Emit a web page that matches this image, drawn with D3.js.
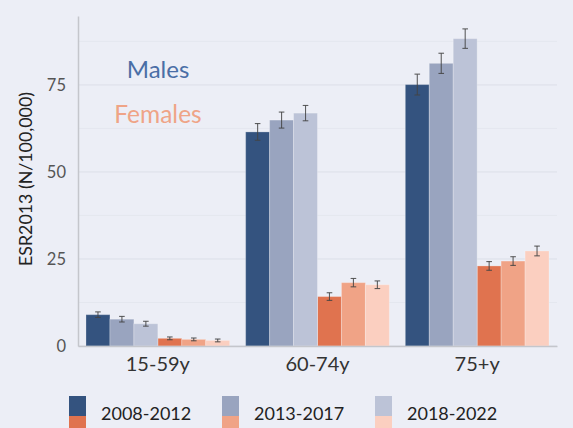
<!DOCTYPE html>
<html>
<head>
<meta charset="utf-8">
<script src="https://cdn.jsdelivr.net/npm/d3@7"></script>
<style>
  body { margin: 0; background: #eceef6; }
  svg { display: block; font-family: Lato, "Open Sans", sans-serif; }
</style>
</head>
<body>
<svg id="chart" width="573" height="428"></svg>
<script>
// age groups and periods
var ageGroups = ["15-59y", "60-74y", "75+y"];
var periods = ["2008-2012", "2013-2017", "2018-2022"];

// rates per age group, one value per period
var maleRate = [[9.0, 7.7, 6.4], [61.5, 64.9, 66.9], [75.1, 81.2, 88.3]];
var maleErr = [[0.8, 0.8, 0.7], [2.4, 2.3, 2.2], [3.0, 2.9, 2.8]];
var femaleRate = [[2.2, 1.9, 1.6], [14.2, 18.2, 17.6], [23.0, 24.4, 27.3]];
var femaleErr = [[0.4, 0.4, 0.4], [1.1, 1.2, 1.1], [1.25, 1.25, 1.4]];

var yTicks = [0, 25, 50, 75];
var gridValues = [0, 12.5, 25, 37.5, 50, 62.5, 75, 87.5];

var maleColors = ["#34537f", "#99a4bf", "#bcc3d7"];
var femaleColors = ["#e0734f", "#f0a386", "#fbcfc0"];

var svg = d3.select("#chart"),
	margin = { top: 16, right: 16, bottom: 82, left: 78 },
	width = +svg.attr("width") - margin.left - margin.right,
	height = +svg.attr("height") - margin.top - margin.bottom,
	g = svg.append("g").attr("transform", "translate(" + margin.left + "," + margin.top + ")");

var x = d3.scaleBand().domain(ageGroups).range([0, width]).paddingInner(0.1).paddingOuter(0.05);
var x1 = d3.scaleBand().domain(d3.range(6)).range([0, x.bandwidth()]);
var y = d3.scaleLinear().domain([0, 94.8]).range([height, 0]);

// gridlines
g.selectAll(".grid")
	.data(gridValues)
	.enter().append("line")
	.attr("x1", 0).attr("x2", width)
	.attr("y1", function (d) { return y(d); })
	.attr("y2", function (d) { return y(d); })
	.attr("stroke", function (d) { return d % 25 == 0 ? "#dcdfe8" : "#e4e7ef"; })
	.attr("stroke-width", 1);

// flatten data into bar records
var bars = [];
ageGroups.forEach(function (a, i) {
	periods.forEach(function (p, j) {
		bars.push({ age: a, idx: j, value: maleRate[i][j], err: maleErr[i][j], color: maleColors[j] });
		bars.push({ age: a, idx: 3 + j, value: femaleRate[i][j], err: femaleErr[i][j], color: femaleColors[j] });
	});
});

g.selectAll(".bar")
	.data(bars)
	.enter().append("rect")
	.attr("class", "bar")
	.attr("x", function (d) { return x(d.age) + x1(d.idx); })
	.attr("y", function (d) { return y(d.value); })
	.attr("width", x1.bandwidth())
	.attr("height", function (d) { return y(0) - y(d.value); })
	.attr("fill", function (d) { return d.color; })
	.attr("stroke", "#ffffff")
	.attr("stroke-opacity", 0.25)
	.attr("stroke-width", 1);

// error bars
var eb = g.selectAll(".err")
	.data(bars)
	.enter().append("g")
	.attr("class", "err")
	.attr("stroke", "#444")
	.attr("stroke-opacity", 0.85)
	.attr("stroke-width", 1.1);
eb.append("line")
	.attr("x1", function (d) { return x(d.age) + x1(d.idx) + x1.bandwidth() / 2; })
	.attr("x2", function (d) { return x(d.age) + x1(d.idx) + x1.bandwidth() / 2; })
	.attr("y1", function (d) { return y(d.value + d.err); })
	.attr("y2", function (d) { return y(d.value - d.err); });
[1, -1].forEach(function (s) {
	eb.append("line")
		.attr("x1", function (d) { return x(d.age) + x1(d.idx) + x1.bandwidth() / 2 - 2.8; })
		.attr("x2", function (d) { return x(d.age) + x1(d.idx) + x1.bandwidth() / 2 + 2.8; })
		.attr("y1", function (d) { return y(d.value + s * d.err); })
		.attr("y2", function (d) { return y(d.value + s * d.err); });
});

// axes
var yAxis = g.append("g")
	.call(d3.axisLeft(y).tickValues(yTicks).tickSize(0).tickPadding(12));
yAxis.select(".domain").attr("stroke", "#c4c6cc").attr("stroke-width", 1.5);
yAxis.selectAll("text").attr("font-size", "16.5px").attr("fill", "#555")
	.attr("font-family", "Lato, sans-serif");

var xAxis = g.append("g")
	.attr("transform", "translate(0," + height + ")")
	.call(d3.axisBottom(x).tickSize(0).tickPadding(11));
xAxis.select(".domain").attr("stroke", "#c4c6cc").attr("stroke-width", 1.5);
xAxis.selectAll("text").attr("font-size", "20px").attr("fill", "#333")
	.attr("font-family", "Lato, sans-serif");

// y title
svg.append("text")
	.attr("transform", "translate(32,179) rotate(-90)")
	.attr("text-anchor", "middle")
	.attr("font-size", "17.8px")
	.attr("fill", "#222")
	.text("ESR2013 (N/100,000)");

// Males / Females annotation
svg.append("text")
	.attr("x", 158).attr("y", 78)
	.attr("text-anchor", "middle")
	.attr("font-size", "24px")
	.attr("fill", "#4a6ea6")
	.text("Males");
svg.append("text")
	.attr("x", 158).attr("y", 123)
	.attr("text-anchor", "middle")
	.attr("font-size", "24.5px")
	.attr("fill", "#efa487")
	.text("Females");

// legend
var legend = svg.selectAll(".legend")
	.data(periods)
	.enter().append("g")
	.attr("class", "legend")
	.attr("transform", function (d, i) { return "translate(" + (69 + i * 153) + ",396)"; });
legend.append("rect")
	.attr("width", 17).attr("height", 20)
	.attr("fill", function (d, i) { return maleColors[i]; });
legend.append("rect")
	.attr("y", 20)
	.attr("width", 17).attr("height", 20)
	.attr("fill", function (d, i) { return femaleColors[i]; });
legend.append("text")
	.attr("x", 32).attr("y", 24)
	.attr("font-size", "18px")
	.attr("fill", "#222")
	.text(function (d) { return d; });
</script>
</body>
</html>
